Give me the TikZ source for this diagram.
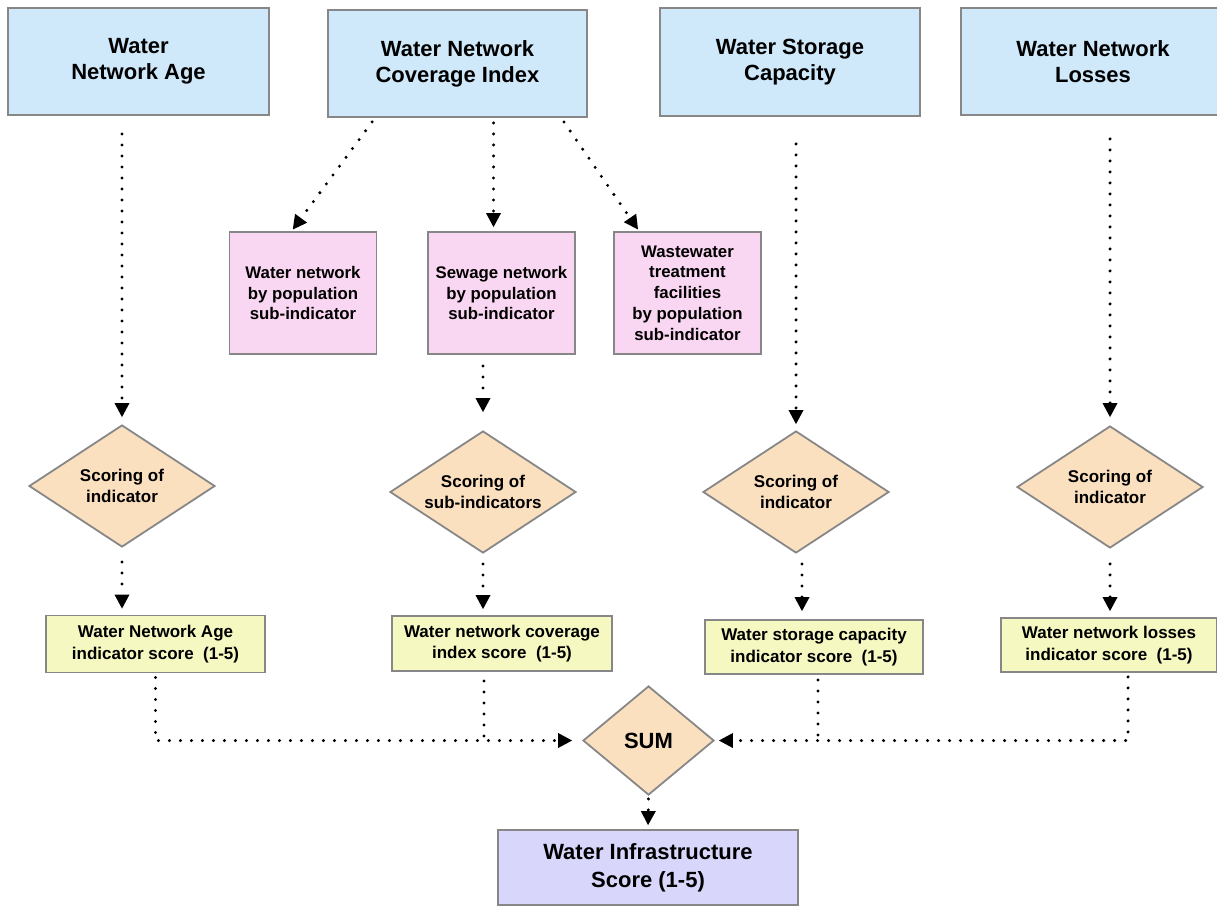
\documentclass[tikz,border=0pt]{standalone}
\usepackage{fontspec}
\setmainfont{Liberation Sans}
\usetikzlibrary{shapes.geometric,arrows.meta,calc}

\definecolor{boxblue}{RGB}{207,233,250}
\definecolor{boxpink}{RGB}{249,214,241}
\definecolor{boxpeach}{RGB}{251,224,192}
\definecolor{boxyellow}{RGB}{245,248,192}
\definecolor{boxpurple}{RGB}{216,214,250}
\definecolor{edgegray}{RGB}{135,135,135}

\tikzset{
  base/.style={draw=edgegray, line width=1.8pt, inner sep=0pt, align=center, font=\bfseries},
  bigtext/.style={font=\fontsize{22}{26}\selectfont\bfseries},
  smalltext/.style={font=\fontsize{17}{21.5}\selectfont\bfseries},
  topbox/.style={base, bigtext, rectangle, fill=boxblue},
  subbox/.style={base, font=\fontsize{16.8}{20.8}\selectfont\bfseries, rectangle, fill=boxpink, minimum width=147pt, minimum height=122pt},
  scorebox/.style={base, smalltext, rectangle, fill=boxyellow},
  decision/.style={base, smalltext, diamond, fill=boxpeach, minimum width=186pt, minimum height=122pt, shape aspect=1.52},
  resultbox/.style={base, font=\fontsize{22}{28}\selectfont\bfseries, rectangle, fill=boxpurple},
  flow/.style={line width=3.3pt, line cap=round, dash pattern=on 0pt off 11pt,
    -{Triangle[length=14pt,width=15pt,line width=0pt]}},
  joinline/.style={line width=3.3pt, line cap=round, dash pattern=on 0pt off 11pt},
}

\begin{document}
\begin{tikzpicture}[x=1pt, y=-1pt]
\useasboundingbox (0,0) rectangle (1217,906);

% indicators
\node[topbox, minimum width=261pt, minimum height=107pt] (A) at (138.5,61.5) {Water\\Network Age};
\node[topbox, minimum width=259pt, minimum height=107pt] (B) at (457.5,63.5) {Water Network\\Coverage Index};
\node[topbox, minimum width=260pt, minimum height=108pt] (C) at (790,62) {Water Storage\\Capacity};
\node[topbox, minimum width=264pt, minimum height=107pt] (D) at (1093,61.5) {Water Network\\Losses};

% coverage sub-indicators
\node[subbox] (P1) at (303,293) {Water network\\by population\\sub-indicator};
\node[subbox] (P2) at (501.5,293) {Sewage network\\by population\\sub-indicator};
\node[subbox] (P3) at (687.5,293) {Wastewater\\treatment\\facilities\\by population\\sub-indicator};

% scoring steps
\node[decision] (S1) at (122,486) {Scoring of\\indicator};
\node[decision] (S2) at (483,492) {Scoring of\\sub-indicators};
\node[decision] (S3) at (796,492) {Scoring of\\indicator};
\node[decision] (S4) at (1110,487) {Scoring of\\indicator};

% indicator scores
\node[scorebox, minimum width=219pt, minimum height=57pt] (Y1) at (155.5,644) {Water Network Age\\indicator score~~(1-5)};
\node[scorebox, minimum width=220pt, minimum height=55pt] (Y2) at (502,643.5) {Water network coverage\\index score~~(1-5)};
\node[scorebox, minimum width=218pt, minimum height=54pt] (Y3) at (814,647) {Water storage capacity\\indicator score~~(1-5)};
\node[scorebox, minimum width=216pt, minimum height=54pt] (Y4) at (1109,645) {Water network losses\\indicator score~~(1-5)};

% aggregation
\node[base, bigtext, diamond, fill=boxpeach, minimum width=131pt, minimum height=109pt, shape aspect=1.2] (SUM) at (648.5,740.5) {SUM};
\node[resultbox, minimum width=300pt, minimum height=75pt] (E) at (648,867.5) {Water Infrastructure\\Score (1-5)};

% indicators to scoring
\draw[flow, shorten <=18pt, shorten >=7pt] (A.south -| S1.north) -- (S1.north);
\draw[flow, shorten <=5pt, shorten >=2pt] ($(B.south west)+(48,0)$) -- ($(P1.north west)+(63,0)$);
\draw[flow, shorten <=5pt, shorten >=4pt] ($(B.south)+(36,0)$) -- ($(P2.north)+(-8,0)$);
\draw[flow, shorten <=5pt, shorten >=2pt] ($(B.south west)+(234,0)$) -- ($(P3.north west)+(26,0)$);
\draw[flow, shorten <=27pt, shorten >=6pt] (C.south -| S3.north) -- (S3.north);
\draw[flow, shorten <=23pt, shorten >=8pt] (D.south -| S4.north) -- (S4.north);
\draw[flow, shorten <=11pt, shorten >=18pt] (P2.south -| S2.north) -- (S2.north);

% scoring to scores
\draw[flow, shorten <=14pt, shorten >=6pt] (S1.south) -- (Y1.north -| S1.south);
\draw[flow, shorten <=10pt, shorten >=6pt] (S2.south) -- (Y2.north -| S2.south);
\draw[flow, shorten <=10pt, shorten >=8pt] ($(S3.south)+(6,0)$) -- (Y3.north -| {$(S3.south)+(6,0)$});
\draw[flow, shorten <=15pt, shorten >=6pt] (S4.south) -- (Y4.north -| S4.south);

% scores to sum
\draw[flow, shorten <=4pt, shorten >=10pt] (Y1.south) |- (SUM.west);
\draw[joinline, shorten <=9pt] ($(Y2.south)+(-18,0)$) -- (SUM.west -| {$(Y2.south)+(-18,0)$});
\draw[joinline, shorten <=5pt] ($(Y3.south)+(4,0)$) -- (SUM.east -| {$(Y3.south)+(4,0)$});
\draw[flow, shorten <=4pt, shorten >=4pt] ($(Y4.south)+(19,0)$) |- (SUM.east);

% sum to final score
\draw[flow, shorten <=3pt, shorten >=4pt] (SUM.south) -- (E.north);
\end{tikzpicture}
\end{document}
